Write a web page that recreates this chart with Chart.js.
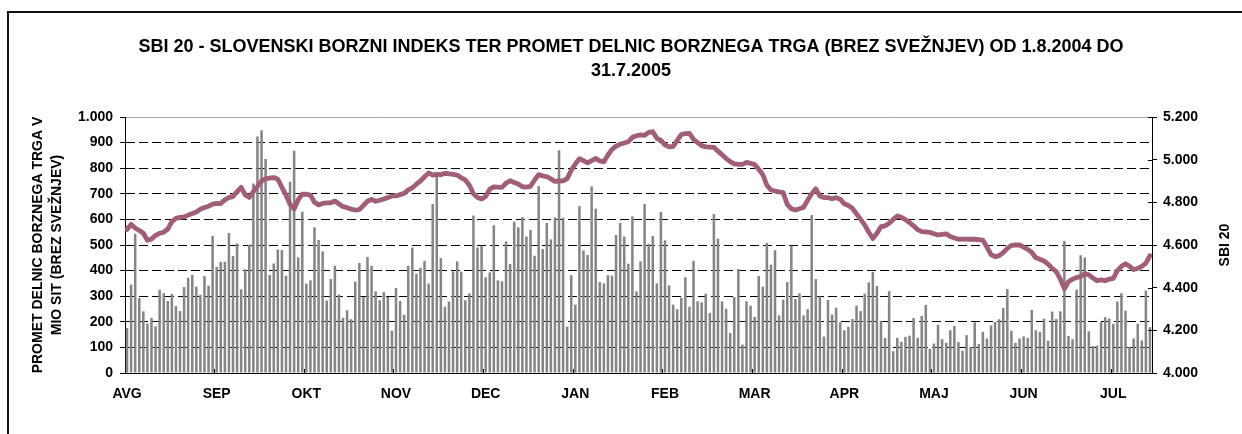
<!DOCTYPE html>
<html>
<head>
<meta charset="utf-8">
<script src="https://cdn.jsdelivr.net/npm/chart.js@4.4.1/dist/chart.umd.min.js"></script>
<style>
  html, body { margin: 0; padding: 0; background: #ffffff; }
  #wrap { position: relative; width: 1242px; height: 434px; }
  canvas { display: block; }
</style>
</head>
<body>
<div id="wrap"><canvas id="c" width="1242" height="434"></canvas></div>
<script>
// ---- DATA ----
const chartTitle = ['SBI 20 - SLOVENSKI BORZNI INDEKS TER PROMET DELNIC BORZNEGA TRGA (BREZ SVEŽNJEV) OD 1.8.2004 DO', '31.7.2005'];
const leftAxisTitle = ['PROMET DELNIC BORZNEGA TRGA V', 'MIO SIT (BREZ SVEŽNJEV)'];
const rightAxisTitle = 'SBI 20';
const monthLabels = ['AVG', 'SEP', 'OKT', 'NOV', 'DEC', 'JAN', 'FEB', 'MAR', 'APR', 'MAJ', 'JUN', 'JUL'];
const daysPerMonthTick = 22;

// daily share turnover (mio SIT), trading days 1.8.2004 - 31.7.2005
const turnover = [
  176, 345, 544, 293, 241, 193, 215, 182, 325, 312,
  281, 309, 262, 242, 336, 372, 383, 337, 305, 379,
  341, 536, 414, 434, 435, 547, 457, 506, 327, 405,
  501, 740, 924, 948, 836, 383, 428, 482, 480, 380,
  747, 868, 452, 630, 349, 362, 569, 520, 475, 283,
  367, 419, 306, 216, 245, 210, 357, 430, 296, 453,
  419, 319, 284, 316, 297, 165, 332, 281, 227, 419,
  490, 388, 411, 438, 349, 660, 768, 449, 259, 279,
  397, 436, 396, 284, 311, 615, 490, 497, 374, 393,
  577, 362, 358, 514, 426, 591, 569, 609, 533, 559,
  458, 730, 484, 586, 522, 608, 870, 607, 181, 382,
  267, 652, 479, 461, 729, 642, 355, 350, 382, 380,
  539, 586,
  533, 427, 612, 319, 436, 660, 504, 535, 350, 629,
  518, 342, 267, 249, 294, 374, 259, 438, 280, 276,
  310, 234, 621, 525, 280, 251, 156, 297, 406, 111,
  280, 263, 219, 379, 337, 508, 423, 480, 225, 286,
  355, 497, 289, 311, 225, 249, 617, 367, 299, 142,
  285, 228, 255, 199, 167, 181, 211, 263, 242, 310,
  354,
  395, 340, 204, 137, 320, 85, 137, 122, 141, 146,
  215, 137, 223, 266, 94, 115, 188, 132, 118, 167,
  184, 121, 87, 148, 102, 198, 113, 161, 135, 186,
  199, 210, 254, 328, 165, 118, 135, 143, 137, 246,
  167, 161, 212, 126, 240, 211, 241, 516, 145, 132,
  326, 460, 451, 163, 105, 107, 199,
  218, 213, 192, 279, 312, 243, 101, 135, 192, 127, 322, 179
];

// SBI 20 index value per trading day
const sbi20 = [
  4673, 4697, 4680, 4668, 4655, 4622, 4628, 4645, 4655, 4660,
  4675, 4710, 4725, 4730, 4732, 4740, 4748, 4755, 4768, 4776,
  4782, 4792, 4795, 4794, 4812, 4822, 4828, 4850, 4870, 4835,
  4823, 4850, 4875, 4900, 4910, 4913, 4916, 4908, 4870, 4834,
  4790, 4769, 4812, 4838, 4838, 4834, 4800, 4788, 4795, 4797,
  4798, 4806, 4792, 4780, 4775, 4768, 4764, 4766, 4785, 4805,
  4814, 4805, 4810, 4816, 4822, 4830, 4830, 4836, 4842, 4858,
  4868, 4885, 4900, 4920, 4938, 4928, 4931, 4930, 4936, 4934,
  4931, 4928, 4915, 4905, 4880, 4840, 4823, 4816, 4828, 4862,
  4872, 4871, 4870, 4890, 4901, 4893, 4886, 4873, 4871, 4875,
  4905, 4930, 4924, 4920, 4910, 4898, 4900, 4901, 4911, 4950,
  4980, 5005, 4995, 4985, 4995, 5006, 4994, 4990, 5022, 5048,
  5063, 5073,
  5078, 5084, 5105, 5112, 5116, 5114, 5128, 5131, 5100, 5090,
  5069, 5060, 5062, 5090, 5118, 5122, 5123, 5095, 5080, 5066,
  5060, 5059, 5058, 5040, 5023, 5005, 4991, 4980, 4978, 4978,
  4987, 4983, 4977, 4955, 4930, 4880, 4858, 4853, 4849, 4846,
  4790, 4770, 4764, 4770, 4777, 4810, 4840, 4863, 4830, 4822,
  4822, 4817, 4822, 4815, 4793, 4785, 4772, 4746, 4720, 4694,
  4660, 4631, 4655, 4686, 4690, 4702, 4720, 4736, 4730, 4718,
  4705, 4690, 4672, 4663, 4661, 4659, 4653, 4647, 4650, 4652,
  4640, 4633, 4627, 4628, 4628, 4627, 4627, 4625, 4623, 4590,
  4555, 4545, 4550, 4564, 4584, 4598, 4600, 4600, 4590, 4580,
  4565, 4540, 4533, 4525, 4510, 4490, 4475, 4440, 4395, 4428,
  4440, 4448, 4452, 4466, 4460, 4445, 4433, 4436, 4433, 4440,
  4444, 4480, 4500, 4512, 4500, 4485, 4490, 4500, 4515, 4550
];

const leftTicks = { min: 0, max: 1000, step: 100 };
const rightTicks = { min: 4000, max: 5200, step: 200 };

// ---- HELPERS ----
function fmtThousands(v) {
  v = Math.round(v);
  if (v >= 1000) {
    return Math.floor(v / 1000) + '.' + String(v % 1000).padStart(3, '0');
  }
  return String(v);
}

const FONT = "'Liberation Sans', Arial, sans-serif";
Chart.defaults.font.family = FONT;
Chart.defaults.color = '#000';

const decorPlugin = {
  id: 'decor',
  beforeDraw(chart) {
    const ctx = chart.ctx;
    ctx.save();
    ctx.fillStyle = '#fff';
    ctx.fillRect(0, 0, chart.width, chart.height);
    ctx.restore();
  },
  afterDraw(chart) {
    const ctx = chart.ctx;
    const ca = chart.chartArea;
    ctx.save();
    // outer frame (top and left edges visible)
    ctx.fillStyle = '#111';
    ctx.fillRect(7, 11, chart.width - 7, 2);
    ctx.fillRect(7, 11, 2, chart.height - 11);
    // right-axis tick marks crossing into the plot
    const y1 = chart.scales.y1;
    ctx.strokeStyle = '#000';
    ctx.lineWidth = 1;
    y1.ticks.forEach((t) => {
      const py = Math.round(y1.getPixelForValue(t.value)) + 0.5;
      ctx.beginPath();
      ctx.moveTo(ca.right - 4, py);
      ctx.lineTo(ca.right, py);
      ctx.stroke();
    });
    // right axis title, reading bottom-to-top
    ctx.font = 'bold 14px ' + FONT;
    ctx.fillStyle = '#000';
    ctx.textAlign = 'center';
    ctx.textBaseline = 'middle';
    ctx.translate(1225, (ca.top + ca.bottom) / 2);
    ctx.rotate(-Math.PI / 2);
    ctx.fillText(rightAxisTitle, 0, 0);
    ctx.restore();
  }
};

const categories = turnover.map((_, i) => i);

new Chart(document.getElementById('c'), {
  type: 'bar',
  data: {
    labels: categories,
    datasets: [
      {
        type: 'line',
        label: 'SBI 20',
        data: sbi20,
        yAxisID: 'y1',
        borderColor: '#A05E79',
        borderWidth: 4.8,
        pointRadius: 0,
        tension: 0,
        fill: false,
        order: 0,
        borderJoinStyle: 'round',
        borderCapStyle: 'round'
      },
      {
        type: 'bar',
        label: 'Promet',
        data: turnover,
        yAxisID: 'y',
        backgroundColor: '#858585',
        borderWidth: 0,
        barPercentage: 0.62,
        categoryPercentage: 1.0,
        order: 1
      }
    ]
  },
  options: {
    responsive: false,
    animation: false,
    events: [],
    layout: { padding: { left: 20, right: 0, top: 0, bottom: 0 } },
    plugins: {
      legend: { display: false },
      tooltip: { enabled: false },
      title: {
        display: true,
        text: chartTitle,
        color: '#000',
        font: { size: 18, weight: 'bold', lineHeight: 24 / 18 },
        padding: { top: 35, bottom: 34 }
      }
    },
    scales: {
      x: {
        type: 'category',
        offset: true,
        afterFit(scale) { scale.height = 61; },
        grid: {
          offset: true,
          drawOnChartArea: false,
          drawTicks: true,
          tickLength: -4,
          color: (c) => (c.index % daysPerMonthTick === 0 ? '#000' : 'rgba(0,0,0,0)'),
          tickColor: (c) => (c.index % daysPerMonthTick === 0 ? '#000' : 'rgba(0,0,0,0)'),
          tickWidth: 1
        },
        border: { display: true, color: '#000', width: 1 },
        ticks: {
          autoSkip: false,
          maxRotation: 0,
          minRotation: 0,
          padding: 17,
          font: { size: 14, weight: 'bold' },
          callback: (val, index) => (index % daysPerMonthTick === 0 ? monthLabels[index / daysPerMonthTick] : '')
        }
      },
      y: {
        position: 'left',
        min: leftTicks.min,
        max: leftTicks.max,
        afterFit(scale) { scale.width = 105; },
        ticks: {
          stepSize: leftTicks.step,
          padding: 7,
          font: { size: 14, weight: 'bold' },
          callback: (v) => fmtThousands(v)
        },
        grid: {
          drawTicks: true,
          tickLength: 5,
          lineWidth: 1,
          color: (c) => {
            if (!c.tick) return '#000';
            if (c.tick.value === leftTicks.max) return '#a8a8a8';
            if (c.tick.value === leftTicks.min) return 'rgba(0,0,0,0)';
            return '#000';
          },
          tickColor: '#000',
          tickBorderDash: []
        },
        border: {
          display: true,
          color: '#000',
          width: 1,
          dash: (c) => (c.tick && c.tick.value === leftTicks.max ? [] : [9, 4])
        },
        title: {
          display: true,
          text: leftAxisTitle,
          color: '#000',
          font: { size: 14, weight: 'bold', lineHeight: 19 / 14 },
          padding: { top: 8.5, bottom: 0 }
        }
      },
      y1: {
        position: 'right',
        min: rightTicks.min,
        max: rightTicks.max,
        afterFit(scale) { scale.width = 90; },
        ticks: {
          stepSize: rightTicks.step,
          padding: 6,
          font: { size: 14, weight: 'bold' },
          callback: (v) => fmtThousands(v)
        },
        grid: {
          drawOnChartArea: false,
          drawTicks: true,
          tickLength: 5,
          color: '#000',
          tickColor: '#000'
        },
        border: { display: true, color: '#000', width: 1 }
      }
    }
  },
  plugins: [decorPlugin]
});
</script>
</body>
</html>
